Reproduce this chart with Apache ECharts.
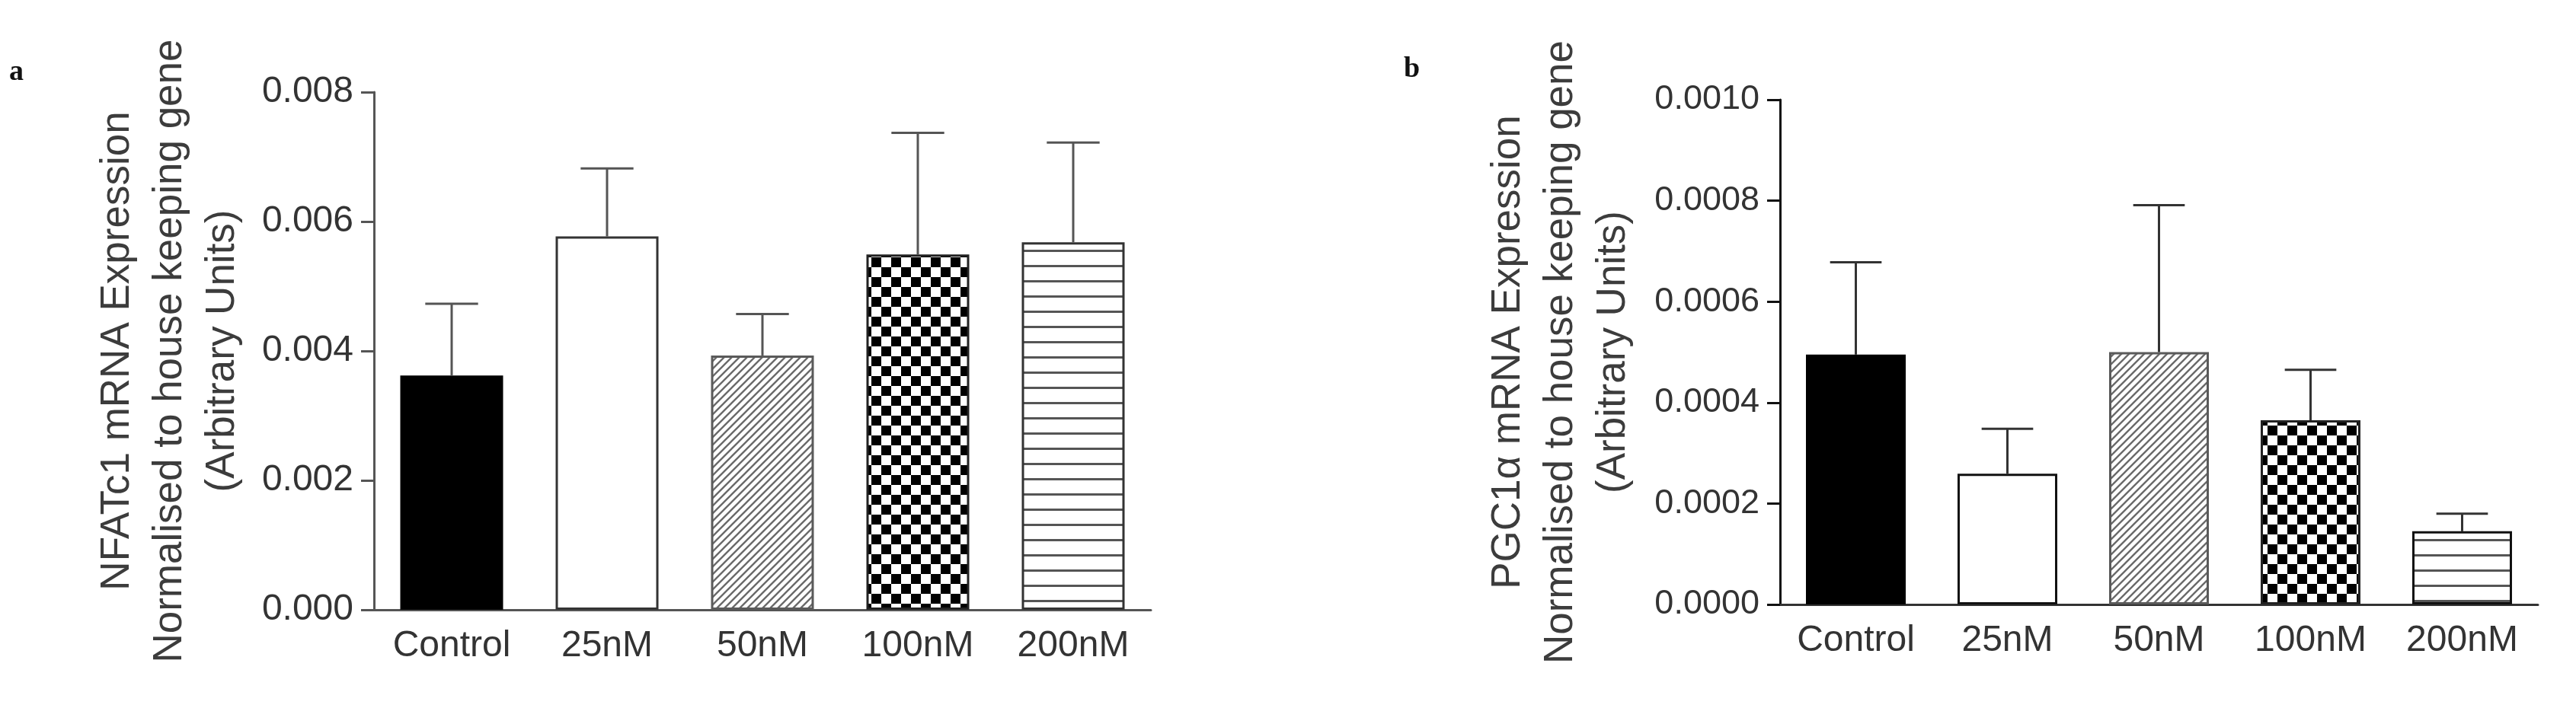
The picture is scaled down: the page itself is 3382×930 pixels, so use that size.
<!DOCTYPE html>
<html>
<head>
<meta charset="utf-8">
<script src="https://cdn.jsdelivr.net/npm/echarts@6/dist/echarts.min.js"></script>
<style>
  html, body { margin: 0; padding: 0; background: #fff; }
  #chart { width: 3382px; height: 930px; }
</style>
</head>
<body>
<div id="chart"></div>
<script>
const categories = ["Control", "25nM", "50nM", "100nM", "200nM"];

// panel a - NFATc1
const nfatMean = [0.00362, 0.00577, 0.00393, 0.00549, 0.00568];
const nfatUpper = [0.00473, 0.00682, 0.00457, 0.00737, 0.00722];
const nfatTicks = { min: 0, max: 0.008, interval: 0.002 };

// panel b - PGC1a
const pgcMean = [0.000495, 0.000259, 0.0005, 0.000365, 0.000145];
const pgcUpper = [0.000678, 0.000348, 0.000791, 0.000465, 0.00018];
const pgcTicks = { min: 0, max: 0.001, interval: 0.0002 };

const FONT = "Liberation Sans, Arial, sans-serif";

function makeTile(w, h, draw) {
  let c = document.createElement("canvas");
  c.width = w;
  c.height = h;
  let ctx = c.getContext("2d");
  ctx.fillStyle = "#fff";
  ctx.fillRect(0, 0, w, h);
  draw(ctx);
  return { image: c, repeat: "repeat" };
}

const hatch = () => makeTile(10, 10, (ctx) => {
  ctx.strokeStyle = "#6a6a6a";
  ctx.lineWidth = 2.4;
  ctx.beginPath();
  ctx.moveTo(-2, 12); ctx.lineTo(12, -2);
  ctx.moveTo(-2, 2); ctx.lineTo(2, -2);
  ctx.moveTo(8, 12); ctx.lineTo(12, 8);
  ctx.stroke();
});
const checker = () => makeTile(26, 26, (ctx) => {
  ctx.fillStyle = "#000";
  ctx.fillRect(0, 0, 13, 13);
  ctx.fillRect(13, 13, 13, 13);
});
const stripes = () => makeTile(4, 20, (ctx) => {
  ctx.fillStyle = "#555";
  ctx.fillRect(0, 8, 4, 3);
});

function barStyles(border) {
  return [
    { color: "#000", borderColor: "#000", borderWidth: 3 },
    { color: "#fff", borderColor: border, borderWidth: 3 },
    { color: hatch(), borderColor: "#5a5a5a", borderWidth: 3 },
    { color: checker(), borderColor: "#222", borderWidth: 3 },
    { color: stripes(), borderColor: border, borderWidth: 3 },
  ];
}

function barData(values, border) {
  let st = barStyles(border);
  return values.map((v, i) => ({ value: v, itemStyle: st[i] }));
}

function errData(mean, upper) {
  return mean.map((m, i) => [i, m, upper[i]]);
}

function errRender(color) {
  return function (params, api) {
    let x = api.value(0);
    let base = api.coord([x, api.value(1)]);
    let top = api.coord([x, api.value(2)]);
    let half = api.size([1, 0])[0] * 0.17;
    let style = { stroke: color, lineWidth: 3 };
    return {
      type: "group",
      children: [
        { type: "line", shape: { x1: base[0], y1: base[1], x2: top[0], y2: top[1] }, style: style },
        { type: "line", shape: { x1: top[0] - half, y1: top[1], x2: top[0] + half, y2: top[1] }, style: style },
      ],
    };
  };
}

function xAxisFor(idx, lineColor) {
  return {
    type: "category",
    gridIndex: idx,
    data: categories,
    axisLine: { lineStyle: { color: lineColor, width: 3 } },
    axisTick: { alignWithLabel: true, length: 18, lineStyle: { color: lineColor, width: 3 } },
    axisLabel: { interval: 0, margin: 24, fontSize: 48, color: "#333", fontFamily: FONT },
  };
}

function yAxisFor(idx, ticks, digits, name, gap, yColor) {
  return {
    type: "value",
    gridIndex: idx,
    min: ticks.min,
    max: ticks.max,
    interval: ticks.interval,
    name: name,
    nameLocation: "middle",
    nameRotate: 90,
    nameGap: gap,
    nameTextStyle: { fontSize: 53, lineHeight: 69, color: "#3c3c3c", fontFamily: FONT },
    axisLine: { show: true, lineStyle: { color: yColor, width: 3 } },
    axisTick: { show: true, length: 17, lineStyle: { color: yColor, width: 3 } },
    axisLabel: {
      margin: 27,
      fontSize: idx === 0 ? 48 : 45,
      color: "#333",
      fontFamily: FONT,
      formatter: (v) => v.toFixed(digits),
    },
    splitLine: { show: false },
  };
}

let chart = echarts.init(document.getElementById("chart"));
let option = {
  backgroundColor: "#fff",
  animation: false,
  title: [
    { text: "a", left: 12, top: 76, padding: 0, textStyle: { fontSize: 38, fontWeight: "bold", fontFamily: "Liberation Serif, Times New Roman, serif", color: "#111" } },
    { text: "b", left: 1843, top: 72, padding: 0, textStyle: { fontSize: 38, fontWeight: "bold", fontFamily: "Liberation Serif, Times New Roman, serif", color: "#111" } },
  ],
  grid: [
    { left: 491, top: 121, width: 1020, height: 680 },
    { left: 2337, top: 131, width: 995, height: 663 },
  ],
  xAxis: [xAxisFor(0, "#555"), xAxisFor(1, "#333")],
  yAxis: [
    yAxisFor(0, nfatTicks, 3, "NFATc1 mRNA Expression\nNormalised to house keeping gene\n(Arbitrary Units)", 164, "#555"),
    yAxisFor(1, pgcTicks, 4, "PGC1\u03b1 mRNA Expression\nNormalised to house keeping gene\n(Arbitrary Units)", 184, "#111"),
  ],
  series: [
    { type: "bar", xAxisIndex: 0, yAxisIndex: 0, barWidth: 135, data: barData(nfatMean, "#333") },
    { type: "custom", xAxisIndex: 0, yAxisIndex: 0, renderItem: errRender("#555"), data: errData(nfatMean, nfatUpper), z: 3 },
    { type: "bar", xAxisIndex: 1, yAxisIndex: 1, barWidth: 131, data: barData(pgcMean, "#111") },
    { type: "custom", xAxisIndex: 1, yAxisIndex: 1, renderItem: errRender("#333"), data: errData(pgcMean, pgcUpper), z: 3 },
  ],
};
chart.setOption(option);
</script>
</body>
</html>
